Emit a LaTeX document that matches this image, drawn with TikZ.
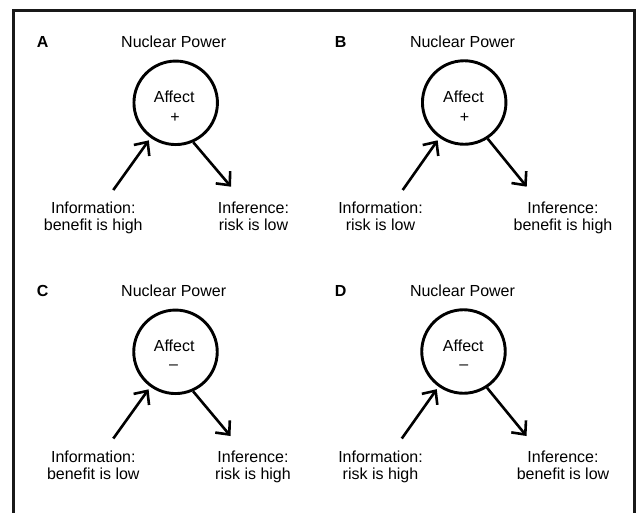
\documentclass[tikz,border=0pt]{standalone}
\usepackage{fontspec}
\setmainfont{Liberation Sans}
\usetikzlibrary{arrows.meta}
\begin{document}
\begin{tikzpicture}[x=1pt,y=-1pt,
  txt/.style={inner sep=0pt, anchor=base, font=\fontsize{16}{19}\selectfont},
  lbl/.style={inner sep=0pt, anchor=base west, font=\fontsize{16}{19}\selectfont\bfseries},
  aff/.style={circle, draw, line width=2.9pt, minimum size=83.5pt, inner sep=0pt},
  arr/.style={line width=2.6pt, -{Straight Barb[length=10.5pt,width=19pt]}},
  frame/.style={line width=2.6pt, draw=black!90}]
\useasboundingbox (0,0) rectangle (637,512);
\coordinate (f1) at (13.3,520);
\coordinate (f2) at (13.3,10.5);
\coordinate (f3) at (634.5,10.5);
\coordinate (f4) at (634.5,520);
\draw[frame] (f1) -- (f2) -- (f3) -- (f4);

% Panel A
\node[lbl] (la) at (36.7,47.3) {A};
\node[txt] (npa) at (173.7,47.3) {Nuclear Power};
\node[aff] (ca) at (175.7,102.8) {};
\node[txt] (afa) at (174.2,102.7) {Affect};
\node[txt] (sa) at (175,122) {+};
\node[txt] (ia1) at (93.3,213.3) {Information:};
\node[txt] (ia2) at (93.3,230.7) {benefit is high};
\node[txt] (ea1) at (253.5,213.3) {Inference:};
\node[txt] (ea2) at (253.5,230.7) {risk is low};
\coordinate (ta) at (113.3,190);
\coordinate (pa) at (231,186.7);
\draw[arr, shorten >=3pt] (ta) -- (ca);
\draw[arr] (ca.-66) -- (pa);

% Panel B
\node[lbl] (lb) at (334.7,47.3) {B};
\node[txt] (npb) at (462.5,47.3) {Nuclear Power};
\node[aff] (cb) at (464.2,102.5) {};
\node[txt] (afb) at (463.5,102.7) {Affect};
\node[txt] (sb) at (464.5,122) {+};
\node[txt] (ib1) at (380.5,213.3) {Information:};
\node[txt] (ib2) at (380.5,230.7) {risk is low};
\node[txt] (eb1) at (563,213.3) {Inference:};
\node[txt] (eb2) at (563,230.7) {benefit is high};
\coordinate (tb) at (402.7,190);
\coordinate (pb) at (526.7,186.7);
\draw[arr, shorten >=3pt] (tb) -- (cb);
\draw[arr] (cb.-57) -- (pb);

% Panel C
\node[lbl] (lc) at (36.7,296.3) {C};
\node[txt] (npc) at (173.7,296.3) {Nuclear Power};
\node[aff] (cc) at (175.5,351.8) {};
\node[txt] (afc) at (174.2,351.7) {Affect};
\node[txt] (sc) at (173.5,369) {–};
\node[txt] (ic1) at (93.3,462.5) {Information:};
\node[txt] (ic2) at (93.3,479.3) {benefit is low};
\node[txt] (ec1) at (253,462.5) {Inference:};
\node[txt] (ec2) at (253,479.3) {risk is high};
\coordinate (tc) at (113.3,438.5);
\coordinate (pc) at (230.5,436);
\draw[arr, shorten >=3pt] (tc) -- (cc);
\draw[arr] (cc.-66) -- (pc);

% Panel D
\node[lbl] (ld) at (334.7,296.3) {D};
\node[txt] (npd) at (462.5,296.3) {Nuclear Power};
\node[aff] (cd) at (463.5,351.5) {};
\node[txt] (afd) at (463.3,351.7) {Affect};
\node[txt] (sd) at (463.8,369) {–};
\node[txt] (id1) at (380.5,462.5) {Information:};
\node[txt] (id2) at (380.5,479.3) {risk is high};
\node[txt] (ed1) at (563,462.5) {Inference:};
\node[txt] (ed2) at (563,479.3) {benefit is low};
\coordinate (td) at (401.8,438.5);
\coordinate (pd) at (526.5,436);
\draw[arr, shorten >=3pt] (td) -- (cd);
\draw[arr] (cd.-57) -- (pd);
\end{tikzpicture}
\end{document}
